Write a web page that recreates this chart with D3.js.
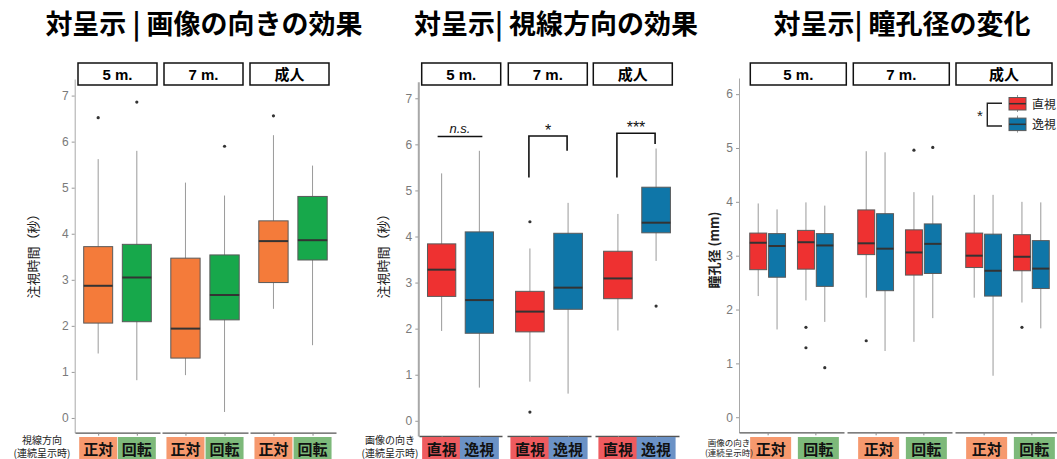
<!DOCTYPE html>
<html>
<head>
<meta charset="utf-8">
<script src="https://cdn.jsdelivr.net/npm/d3@7"></script>
<style>
  body { margin: 0; background: #fff; }
  svg { display: block; font-family: "Liberation Sans", Arial, "Noto Sans CJK JP", sans-serif; }
</style>
</head>
<body>
<script>
// facets shared by all three panels
var facets = ["5 m.", "7 m.", "成人"];

// panel 1: 画像の向き, 注視時間 (秒)
// box stats: [lower whisker, Q1, median, Q3, upper whisker], facet by facet
var orientCats = ["正対", "回転"];
var orientStats = [
    [1.40, 2.06, 2.87, 3.72, 5.62],
    [0.82, 2.09, 3.05, 3.77, 5.80],
    [0.93, 1.30, 1.94, 3.47, 5.11],
    [0.13, 2.13, 2.67, 3.54, 4.83],
    [2.37, 2.94, 3.84, 4.28, 6.14],
    [1.58, 3.43, 3.86, 4.81, 5.48]
];
var orientOutliers = [[6.52], [6.86], [], [5.90], [6.56], []];

// panel 2: 視線方向, 注視時間 (秒)
var gazeCats = ["直視", "逸視"];
var gazeStats = [
    [1.95, 2.70, 3.28, 3.84, 5.37],
    [0.72, 1.90, 2.62, 4.10, 5.86],
    [0.85, 1.93, 2.37, 2.81, 3.74],
    [0.59, 2.42, 2.89, 4.07, 4.73],
    [1.96, 2.65, 3.09, 3.68, 4.49],
    [3.47, 4.08, 4.30, 5.07, 5.91]
];
var gazeOutliers = [[], [], [0.19, 4.32], [], [], [2.49]];

// significance marks in panel 2
var sigLabels = ["n.s.", "*", "***"];
var sigTop = [6.17, 6.18, 6.24];
var sigLeftEnd = [6.17, 5.28, 5.28];
var sigRightEnd = [6.17, 5.86, 6.01];

// panel 3: 瞳孔径 (mm), facet -> 画像の向き -> 視線方向
var pupilStats = [
    [2.25, 2.74, 3.24, 3.42, 3.97],
    [1.63, 2.60, 3.18, 3.41, 3.86],
    [2.17, 2.75, 3.25, 3.47, 3.99],
    [1.77, 2.43, 3.19, 3.41, 3.93],
    [2.22, 3.02, 3.23, 3.85, 4.94],
    [1.23, 2.35, 3.13, 3.78, 4.92],
    [1.40, 2.64, 3.06, 3.48, 4.18],
    [1.84, 2.67, 3.22, 3.59, 4.12],
    [2.22, 2.78, 3.00, 3.42, 4.13],
    [0.77, 2.25, 2.72, 3.40, 4.13],
    [2.13, 2.72, 2.98, 3.39, 4.00],
    [1.65, 2.39, 2.76, 3.28, 3.99]
];
var pupilOutliers = [[], [], [1.67, 1.29], [0.92], [1.42], [], [4.96], [5.01], [], [], [1.67], []];

// tick labels
var timeTicks = [0, 1, 2, 3, 4, 5, 6, 7];
var pupilTicks = [0, 1, 2, 3, 4, 5, 6];

// titles
var titles = ["対呈示 | 画像の向きの効果", "対呈示| 視線方向の効果", "対呈示| 瞳孔径の変化"];

// colours
var orientFill = {"正対": "#F47B3A", "回転": "#17A84B"};
var orientLabelFill = {"正対": "#F6996E", "回転": "#7DB97A"};
var gazeFill = {"直視": "#EE3131", "逸視": "#0F76A8"};
var gazeLabelFill = {"直視": "#EE5B5F", "逸視": "#6B92C6"};

var svg = d3.select("body").append("svg")
    .attr("width", 1057)
    .attr("height", 459);

// draw one box with whiskers and outliers
function drawBox(g, cx, w, stats, outliers, fill, y) {
    g.append("line")
        .attr("x1", cx).attr("x2", cx)
        .attr("y1", y(stats[0])).attr("y2", y(stats[4]))
        .attr("stroke", "#9a9a9a").attr("stroke-width", 1);
    g.append("rect")
        .attr("x", cx - w / 2).attr("width", w)
        .attr("y", y(stats[3])).attr("height", y(stats[1]) - y(stats[3]))
        .attr("fill", fill).attr("stroke", "#5a5a5a").attr("stroke-width", 1);
    g.append("line")
        .attr("x1", cx - w / 2).attr("x2", cx + w / 2)
        .attr("y1", y(stats[2])).attr("y2", y(stats[2]))
        .attr("stroke", "#333").attr("stroke-width", 2);
    g.selectAll(null).data(outliers).enter().append("circle")
        .attr("cx", cx).attr("cy", function(d) { return y(d); })
        .attr("r", 1.6).attr("fill", "#333");
}

// y axis, strips, facet x axes, title and y title
function drawFrame(p) {
    var g = svg.append("g");

    g.append("text")
        .attr("x", p.titleX).attr("y", 34)
        .attr("text-anchor", "middle")
        .style("font-family", "'Noto Sans CJK JP', sans-serif")
        .style("font-size", "27px").style("font-weight", "bold")
        .text(p.title);

    var yAxis = d3.axisLeft(p.y).tickValues(p.ticks).tickFormat(d3.format("d"))
        .tickSize(3).tickPadding(3).tickSizeOuter(0);
    var ya = g.append("g")
        .attr("transform", "translate(" + p.axisX + ",0)")
        .call(yAxis);
    ya.select(".domain").attr("stroke", "#a8a8a8").attr("stroke-width", p.axisW);
    ya.selectAll(".tick line").attr("stroke", "#999");
    ya.selectAll(".tick text").attr("fill", "#7a7a7a")
        .style("font-size", "12px").style("font-family", "'Liberation Sans', Arial, sans-serif");

    g.append("text")
        .attr("transform", "translate(" + p.yTitleX + "," + p.yTitleY + ") rotate(-90)")
        .attr("text-anchor", "middle")
        .attr("dominant-baseline", "central")
        .style("font-family", "'Noto Sans CJK JP', sans-serif")
        .style("font-size", "13px")
        .style("font-weight", p.yTitleBold ? "bold" : "normal")
        .attr("fill", "#222")
        .text(p.yTitle);

    // facet strips
    facets.forEach(function(f, i) {
        g.append("rect")
            .attr("x", p.stripX[i]).attr("y", 63)
            .attr("width", p.stripW).attr("height", 22)
            .attr("fill", "#fff").attr("stroke", "#111").attr("stroke-width", 1.5);
        g.append("text")
            .attr("x", p.stripX[i] + p.stripW / 2).attr("y", 79.5)
            .attr("text-anchor", "middle")
            .style("font-size", "15px").style("font-weight", "bold")
            .text(f);
    });

    // one x scale per facet
    var xs = p.facetX.map(function(r) {
        return d3.scalePoint().domain(p.cats).range(r).padding(0.6);
    });

    xs.forEach(function(x) {
        var xa = g.append("g")
            .attr("transform", "translate(0," + p.axisY + ")")
            .call(d3.axisBottom(x).tickSize(3).tickSizeOuter(0).tickFormat(""));
        xa.select(".domain").attr("stroke", "#555").attr("stroke-width", 1.3);
        xa.selectAll(".tick line").attr("stroke", "#888");
    });

    // coloured category labels below the axes
    xs.forEach(function(x) {
        p.cats.forEach(function(c) {
            var cx = x(c) + p.labelShift;
            g.append("rect")
                .attr("x", cx - p.labelW / 2).attr("y", 437)
                .attr("width", p.labelW).attr("height", 24)
                .attr("fill", p.labelFill[c]);
            g.append("text")
                .attr("x", cx).attr("y", 455)
                .attr("text-anchor", "middle")
                .style("font-family", "'Noto Sans CJK JP', sans-serif")
                .style("font-size", "15px").style("font-weight", "bold")
                .attr("fill", "#111")
                .text(c);
        });
    });

    // title of the x categories, two lines
    p.xTitle.forEach(function(t, i) {
        g.append("text")
            .attr("x", p.xTitleX).attr("y", p.xTitleY[i])
            .attr("text-anchor", "middle")
            .style("font-family", "'Noto Sans CJK JP', sans-serif")
            .style("font-size", p.xTitleSize)
            .attr("fill", "#222")
            .text(t);
    });

    return {g: g, xs: xs};
}

// ---------- panel 1 ----------
var y1 = d3.scaleLinear().domain([-0.32, 7.36]).range([432.7, 79]);
var p1 = drawFrame({
    title: titles[0], titleX: 204,
    y: y1, ticks: timeTicks, axisX: 74.7, axisW: 1, axisY: 432.7,
    yTitle: "注視時間（秒）", yTitleX: 32, yTitleY: 253, yTitleBold: false,
    stripX: [78, 164, 250], stripW: 79,
    facetX: [[75, 160], [162, 248], [250, 336]],
    cats: orientCats, labelFill: orientLabelFill, labelW: 38, labelShift: 0,
    xTitle: ["視線方向", "(連続呈示時)"], xTitleX: 42, xTitleY: [444, 457], xTitleSize: "10px"
});
p1.xs.forEach(function(x, fi) {
    orientCats.forEach(function(c, ci) {
        var k = fi * 2 + ci;
        drawBox(p1.g, x(c), x.step() * 0.75, orientStats[k], orientOutliers[k], orientFill[c], y1);
    });
});

// ---------- panel 2 ----------
var y2 = d3.scaleLinear().domain([-0.33, 7.36]).range([436, 81.7]);
var p2 = drawFrame({
    title: titles[1], titleX: 556,
    y: y2, ticks: timeTicks, axisX: 418.3, axisW: 2, axisY: 436,
    yTitle: "注視時間（秒）", yTitleX: 382, yTitleY: 253, yTitleBold: false,
    stripX: [421.7, 508.3, 593.3], stripW: 79,
    facetX: [[419, 502], [507, 591], [595, 679]],
    cats: gazeCats, labelFill: gazeLabelFill, labelW: 39, labelShift: 0,
    xTitle: ["画像の向き", "(連続呈示時)"], xTitleX: 390, xTitleY: [444, 457], xTitleSize: "10px"
});
p2.xs.forEach(function(x, fi) {
    gazeCats.forEach(function(c, ci) {
        var k = fi * 2 + ci;
        drawBox(p2.g, x(c), x.step() * 0.75, gazeStats[k], gazeOutliers[k], gazeFill[c], y2);
    });

    // significance bracket
    var xl = x(gazeCats[0]) - 1, xr = x(gazeCats[1]) - 1;
    if (sigLabels[fi] == "n.s.") {
        xl -= 3; xr += 4;
    }
    p2.g.append("path")
        .attr("d", "M" + xl + "," + y2(sigLeftEnd[fi]) + "V" + y2(sigTop[fi]) +
                   "H" + xr + "V" + y2(sigRightEnd[fi]))
        .attr("fill", "none").attr("stroke", "#111").attr("stroke-width", 1.6);
    p2.g.append("text")
        .attr("x", (xl + xr) / 2).attr("y", y2(sigTop[fi]) - (sigLabels[fi] == "n.s." ? 4 : 0))
        .attr("text-anchor", "middle")
        .style("font-size", sigLabels[fi] == "n.s." ? "13px" : "16px")
        .style("font-style", sigLabels[fi] == "n.s." ? "italic" : "normal")
        .attr("fill", "#111")
        .text(sigLabels[fi]);
});

// ---------- panel 3 ----------
var y3 = d3.scaleLinear().domain([-0.28, 6.30]).range([432.3, 78]);
var p3 = drawFrame({
    title: titles[2], titleX: 902,
    y: y3, ticks: pupilTicks, axisX: 739, axisW: 1, axisY: 432.3,
    yTitle: "瞳孔径 (mm)", yTitleX: 713, yTitleY: 250, yTitleBold: true,
    stripX: [750.3, 853.3, 956], stripW: 96,
    facetX: [[739, 844], [847, 952], [955, 1060]],
    cats: orientCats, labelFill: orientLabelFill, labelW: 41, labelShift: 3,
    xTitle: ["画像の向き", "(連続呈示時)"], xTitleX: 729, xTitleY: [446, 456], xTitleSize: "8.5px"
});
p3.xs.forEach(function(x, fi) {
    var dodge = d3.scaleBand().domain(gazeCats)
        .range([-x.step() * 0.375, x.step() * 0.375]).paddingInner(0.1);
    orientCats.forEach(function(c, ci) {
        gazeCats.forEach(function(gz, gi) {
            var k = fi * 4 + ci * 2 + gi;
            var cx = x(c) + dodge(gz) + dodge.bandwidth() / 2;
            drawBox(p3.g, cx, dodge.bandwidth(), pupilStats[k], pupilOutliers[k], gazeFill[gz], y3);
        });
    });
});

// legend of panel 3
var legend = p3.g.append("g").attr("transform", "translate(1009,97)");
gazeCats.forEach(function(gz, i) {
    var item = legend.append("g").attr("transform", "translate(0," + i * 20.6 + ")");
    item.append("line").attr("x1", 8.5).attr("x2", 8.5).attr("y1", -2).attr("y2", 15)
        .attr("stroke", "#999");
    item.append("rect").attr("x", 0).attr("y", 0.5).attr("width", 17).attr("height", 12.5)
        .attr("fill", gazeFill[gz]).attr("stroke", "#5a5a5a");
    item.append("line").attr("x1", 0).attr("x2", 17).attr("y1", 6.7).attr("y2", 6.7)
        .attr("stroke", "#333").attr("stroke-width", 1.5);
    item.append("text").attr("x", 23).attr("y", 11.5)
        .style("font-family", "'Noto Sans CJK JP', sans-serif")
        .style("font-size", "12px").attr("fill", "#222")
        .text(gz);
});
p3.g.append("path")
    .attr("d", "M1002,103.3H987.3V126H1002")
    .attr("fill", "none").attr("stroke", "#222").attr("stroke-width", 1.4);
p3.g.append("text")
    .attr("x", 980).attr("y", 121)
    .attr("text-anchor", "middle")
    .style("font-size", "15px").attr("fill", "#222")
    .text("*");
</script>
</body>
</html>
